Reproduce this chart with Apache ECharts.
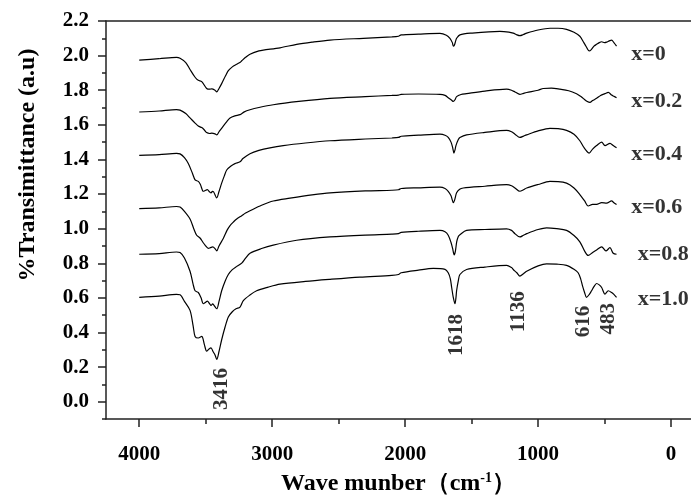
<!DOCTYPE html>
<html>
<head>
<meta charset="utf-8">
<script src="https://cdn.jsdelivr.net/npm/echarts@6/dist/echarts.min.js"></script>
<style>
html,body{margin:0;padding:0;background:#fff;}
#chart{width:691px;height:501px;}
</style>
</head>
<body>
<div id="chart"></div>
<script>
// ---------- data ----------
const seriesNames = ['x=0', 'x=0.2', 'x=0.4', 'x=0.6', 'x=0.8', 'x=1.0'];

const s0 = [[4000,1.974],[3850,1.982],[3720,1.99],[3693,1.985],[3650,1.96],[3618,1.92],[3580,1.875],[3556,1.857],[3530,1.85],[3493,1.81],[3470,1.806],[3455,1.808],[3430,1.80],[3417,1.79],[3400,1.81],[3380,1.838],[3350,1.885],[3330,1.913],[3300,1.935],[3267,1.95],[3240,1.962],[3229,1.97],[3200,1.99],[3167,2.008],[3100,2.027],[3067,2.032],[2941,2.045],[2816,2.065],[2700,2.078],[2565,2.09],[2315,2.10],[2100,2.108],[2050,2.112],[2030,2.12],[1900,2.124],[1738,2.128],[1690,2.118],[1663,2.10],[1645,2.075],[1638,2.055],[1630,2.06],[1620,2.085],[1613,2.10],[1588,2.12],[1500,2.13],[1287,2.14],[1220,2.136],[1187,2.13],[1160,2.12],[1137,2.115],[1110,2.122],[1086,2.13],[1000,2.148],[910,2.158],[850,2.158],[786,2.152],[730,2.135],[686,2.112],[660,2.08],[648,2.065],[630,2.04],[616,2.027],[600,2.035],[580,2.055],[560,2.065],[540,2.075],[522,2.08],[500,2.075],[485,2.078],[465,2.085],[447,2.09],[430,2.075],[410,2.055]];

const s1 = [[4000,1.674],[3850,1.68],[3720,1.688],[3693,1.685],[3650,1.665],[3618,1.64],[3580,1.61],[3556,1.593],[3530,1.584],[3510,1.57],[3493,1.555],[3470,1.55],[3455,1.552],[3430,1.548],[3417,1.542],[3400,1.56],[3368,1.593],[3340,1.62],[3317,1.64],[3280,1.652],[3242,1.659],[3210,1.675],[3167,1.687],[3100,1.70],[2992,1.716],[2800,1.735],[2565,1.753],[2300,1.763],[2100,1.77],[2050,1.772],[2030,1.776],[1900,1.778],[1738,1.776],[1700,1.77],[1676,1.757],[1650,1.742],[1638,1.735],[1625,1.745],[1613,1.763],[1580,1.775],[1538,1.78],[1400,1.795],[1237,1.806],[1200,1.80],[1174,1.79],[1137,1.776],[1110,1.782],[1086,1.787],[1000,1.80],[961,1.81],[900,1.812],[836,1.806],[770,1.797],[711,1.78],[680,1.765],[661,1.753],[630,1.735],[610,1.73],[590,1.74],[560,1.753],[530,1.77],[497,1.78],[472,1.787],[447,1.772],[430,1.765],[410,1.757]];

const s2 = [[4000,1.424],[3850,1.428],[3720,1.435],[3693,1.432],[3660,1.41],[3631,1.376],[3600,1.32],[3580,1.282],[3556,1.273],[3540,1.255],[3518,1.216],[3500,1.222],[3488,1.225],[3470,1.212],[3460,1.207],[3450,1.215],[3440,1.212],[3417,1.178],[3400,1.215],[3380,1.263],[3360,1.305],[3342,1.339],[3310,1.362],[3280,1.376],[3242,1.386],[3220,1.405],[3167,1.433],[3100,1.452],[3017,1.467],[2917,1.48],[2750,1.495],[2565,1.508],[2300,1.518],[2100,1.524],[2050,1.527],[2030,1.534],[1900,1.54],[1738,1.546],[1700,1.54],[1676,1.527],[1655,1.50],[1643,1.47],[1633,1.437],[1625,1.455],[1618,1.48],[1600,1.515],[1588,1.527],[1538,1.542],[1400,1.556],[1237,1.568],[1200,1.56],[1174,1.546],[1137,1.527],[1110,1.535],[1086,1.542],[1000,1.565],[911,1.58],[850,1.578],[786,1.568],[730,1.545],[686,1.508],[660,1.475],[648,1.461],[616,1.437],[590,1.46],[560,1.48],[522,1.50],[497,1.48],[459,1.493],[435,1.48],[410,1.467]];

const s3 = [[4000,1.116],[3850,1.12],[3720,1.128],[3693,1.125],[3660,1.10],[3618,1.056],[3590,1.0],[3568,0.962],[3543,0.946],[3520,0.92],[3505,0.905],[3480,0.886],[3465,0.89],[3447,0.895],[3430,0.885],[3417,0.871],[3400,0.90],[3368,0.943],[3340,0.99],[3317,1.018],[3290,1.04],[3267,1.056],[3229,1.075],[3200,1.09],[3167,1.103],[3080,1.135],[2992,1.16],[2866,1.176],[2700,1.195],[2565,1.207],[2300,1.218],[2100,1.222],[2050,1.225],[2030,1.232],[1900,1.236],[1738,1.24],[1700,1.232],[1676,1.216],[1655,1.19],[1645,1.165],[1638,1.15],[1628,1.165],[1613,1.207],[1590,1.228],[1563,1.235],[1400,1.245],[1237,1.254],[1200,1.248],[1174,1.235],[1137,1.216],[1110,1.225],[1086,1.235],[1000,1.255],[911,1.273],[850,1.272],[786,1.263],[730,1.235],[686,1.197],[650,1.16],[623,1.131],[590,1.14],[560,1.14],[522,1.15],[485,1.147],[447,1.16],[430,1.15],[410,1.14]];

const s4 = [[4000,0.852],[3850,0.856],[3720,0.865],[3693,0.862],[3660,0.83],[3618,0.754],[3595,0.68],[3580,0.641],[3556,0.631],[3535,0.60],[3518,0.566],[3500,0.575],[3488,0.581],[3470,0.565],[3460,0.556],[3448,0.565],[3440,0.56],[3417,0.537],[3400,0.58],[3380,0.641],[3355,0.695],[3330,0.735],[3300,0.763],[3267,0.782],[3229,0.801],[3200,0.83],[3167,0.858],[3080,0.885],[2992,0.905],[2816,0.933],[2565,0.952],[2300,0.963],[2100,0.968],[2050,0.971],[2030,0.978],[1900,0.985],[1738,0.99],[1700,0.982],[1676,0.962],[1655,0.92],[1643,0.886],[1631,0.848],[1622,0.87],[1612,0.925],[1600,0.955],[1588,0.965],[1538,0.99],[1400,0.995],[1237,0.999],[1200,0.99],[1174,0.971],[1137,0.952],[1110,0.962],[1086,0.971],[1000,0.995],[936,1.005],[860,1.0],[786,0.99],[730,0.96],[686,0.924],[650,0.87],[623,0.845],[590,0.862],[560,0.877],[522,0.895],[490,0.871],[460,0.89],[435,0.858],[410,0.852]];

const s5 = [[4000,0.603],[3850,0.61],[3720,0.62],[3693,0.618],[3660,0.58],[3618,0.528],[3595,0.44],[3580,0.377],[3556,0.368],[3530,0.377],[3510,0.33],[3493,0.292],[3475,0.305],[3460,0.311],[3445,0.29],[3430,0.27],[3417,0.245],[3400,0.29],[3380,0.358],[3355,0.43],[3330,0.49],[3300,0.52],[3272,0.537],[3242,0.547],[3217,0.584],[3170,0.615],[3117,0.641],[3030,0.662],[2941,0.679],[2750,0.695],[2565,0.707],[2340,0.72],[2100,0.73],[2050,0.735],[2030,0.745],[1900,0.76],[1788,0.77],[1700,0.765],[1676,0.745],[1660,0.71],[1650,0.66],[1638,0.603],[1625,0.566],[1618,0.60],[1613,0.641],[1600,0.70],[1588,0.735],[1538,0.764],[1400,0.778],[1237,0.788],[1200,0.775],[1187,0.764],[1160,0.745],[1137,0.726],[1110,0.74],[1086,0.754],[1000,0.785],[936,0.797],[860,0.795],[786,0.788],[730,0.765],[699,0.745],[680,0.71],[666,0.669],[650,0.63],[636,0.603],[615,0.62],[598,0.641],[580,0.665],[560,0.683],[540,0.675],[522,0.66],[497,0.622],[472,0.641],[447,0.631],[430,0.62],[410,0.603]];

const allSeries = [s0, s1, s2, s3, s4, s5];

// curve name labels (placed right of each curve end)
const nameLabelX = [300, 300, 300, 300, 250, 250];
const nameLabelY = [2.008, 1.736, 1.431, 1.126, 0.854, 0.594];

// peak annotations
const annText = ['3416', '1618', '1136', '616', '483'];
const annX = [3377, 1611, 1144, 655, 469];
const annY = [0.074, 0.385, 0.52, 0.464, 0.48];

// axis ticks
const xLabelValues = [0, 1000, 2000, 3000, 4000];
const xMinorValues = [500, 1500, 2500, 3500];
const yLabelValues = [0, 0.2, 0.4, 0.6, 0.8, 1.0, 1.2, 1.4, 1.6, 1.8, 2.0, 2.2];
const yMinorValues = [-0.1, 0.1, 0.3, 0.5, 0.7, 0.9, 1.1, 1.3, 1.5, 1.7, 1.9, 2.1];

// ---------- chart ----------
const FONT = "'Liberation Serif','Times New Roman',serif";
const X_MIN = -150, X_MAX = 4250, Y_MIN = -0.1, Y_MAX = 2.2;
const axisCol = '#222';

const chart = echarts.init(document.getElementById('chart'), null, {renderer: 'canvas'});

const xBase = {type: 'value', min: X_MIN, max: X_MAX, inverse: true, gridIndex: 0, splitLine: {show: false}};
const yBase = {type: 'value', min: Y_MIN, max: Y_MAX, gridIndex: 0, splitLine: {show: false}};

const series = allSeries.map((d, i) => ({
  type: 'line', name: seriesNames[i], data: d, xAxisIndex: 0, yAxisIndex: 0,
  showSymbol: false, symbol: 'none', smooth: 0.3,
  lineStyle: {color: '#000', width: 1.2}, animation: false, silent: true
}));

series.push({
  type: 'scatter', xAxisIndex: 0, yAxisIndex: 0, symbolSize: 1,
  itemStyle: {color: 'rgba(0,0,0,0)'}, animation: false, silent: true,
  data: seriesNames.map((n, i) => ({value: [nameLabelX[i], nameLabelY[i]], name: n})),
  label: {show: true, position: 'inside', align: 'left', verticalAlign: 'middle',
    formatter: p => p.name, fontFamily: FONT, fontWeight: 'bold', fontSize: 22, color: '#000'}
});

series.push({
  type: 'scatter', xAxisIndex: 0, yAxisIndex: 0, symbolSize: 1,
  itemStyle: {color: 'rgba(0,0,0,0)'}, animation: false, silent: true,
  data: annText.map((t, i) => ({value: [annX[i], annY[i]], name: t})),
  label: {show: true, position: 'inside', rotate: 90, align: 'center', verticalAlign: 'middle',
    formatter: p => p.name, fontFamily: FONT, fontWeight: 'bold', fontSize: 21, color: '#000'}
});

chart.setOption({
  backgroundColor: '#fff',
  animation: false,
  grid: {left: 106, top: 21, right: 0, bottom: 74, containLabel: false},
  xAxis: [
    Object.assign({}, xBase, {
      position: 'bottom',
      axisLine: {show: true, onZero: false, lineStyle: {color: axisCol, width: 1.5}},
      axisTick: {show: true, customValues: xLabelValues, length: 8, inside: false, lineStyle: {color: axisCol, width: 1.5}},
      axisLabel: {show: true, customValues: xLabelValues, margin: 25, formatter: v => String(v),
        fontFamily: FONT, fontWeight: 'bold', fontSize: 21, color: '#000'},
      name: '{a|Wave munber\uFF08cm}{s|-1}{a|\uFF09}',
      nameLocation: 'middle', nameGap: 52,
      nameTextStyle: {rich: {
        a: {fontFamily: FONT, fontWeight: 'bold', fontSize: 24, color: '#000'},
        s: {fontFamily: FONT, fontWeight: 'bold', fontSize: 14, color: '#000', verticalAlign: 'top', padding: [0, 0, 12, 0]}
      }}
    }),
    Object.assign({}, xBase, {
      position: 'bottom',
      axisLine: {show: false, onZero: false},
      axisTick: {show: true, customValues: xMinorValues, length: 5, lineStyle: {color: axisCol, width: 1.5}},
      axisLabel: {show: false}
    }),
    Object.assign({}, xBase, {
      position: 'top',
      axisLine: {show: true, onZero: false, lineStyle: {color: axisCol, width: 1.5}},
      axisTick: {show: false},
      axisLabel: {show: false}
    })
  ],
  yAxis: [
    Object.assign({}, yBase, {
      position: 'left',
      axisLine: {show: true, onZero: false, lineStyle: {color: axisCol, width: 1.5}},
      axisTick: {show: true, customValues: yLabelValues, length: 8, lineStyle: {color: axisCol, width: 1.5}},
      axisLabel: {show: true, customValues: yLabelValues, margin: 17, formatter: v => v.toFixed(1),
        fontFamily: FONT, fontWeight: 'bold', fontSize: 21, color: '#000'},
      name: '%Transimittance (a.u)',
      nameLocation: 'middle', nameGap: 66,
      nameTextStyle: {fontFamily: FONT, fontWeight: 'bold', fontSize: 24, color: '#000', padding: [0, 0, 0, 110]}
    }),
    Object.assign({}, yBase, {
      position: 'left',
      axisLine: {show: false, onZero: false},
      axisTick: {show: true, customValues: yMinorValues, length: 4, lineStyle: {color: axisCol, width: 1.5}},
      axisLabel: {show: false}
    })
  ],
  series: series
});
</script>
</body>
</html>
